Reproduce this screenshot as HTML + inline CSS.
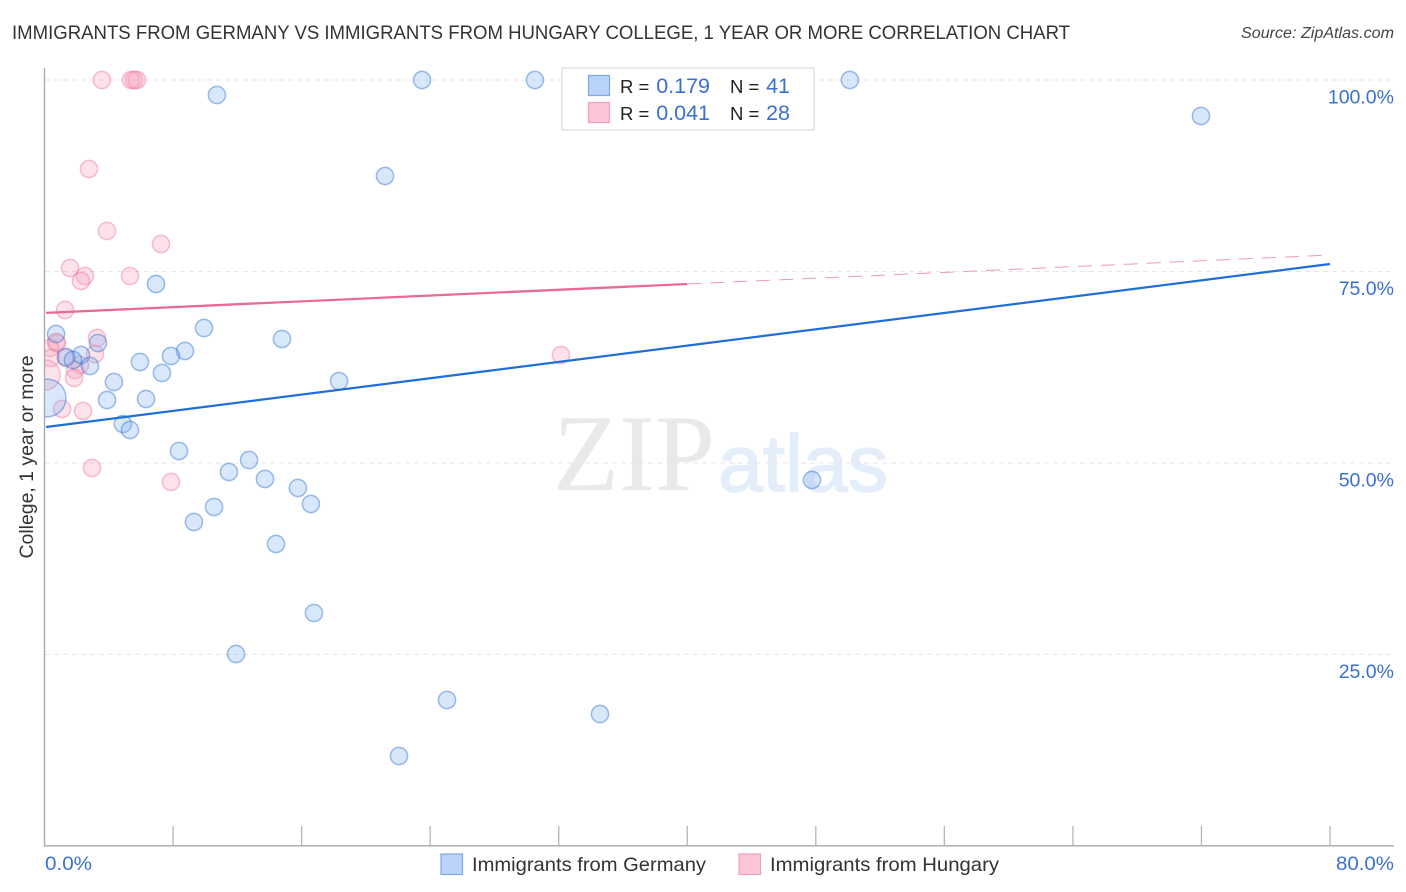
<!DOCTYPE html>
<html lang="en">
<head>
<meta charset="utf-8">
<title>Immigrants from Germany vs Immigrants from Hungary College Correlation Chart</title>
<style>
html,body{margin:0;padding:0;background:#fff;width:1406px;height:892px;overflow:hidden}
svg{display:block;font-family:"Liberation Sans",sans-serif}
</style>
</head>
<body>
<svg id="chart" width="1406" height="892" viewBox="0 0 1406 892" xmlns="http://www.w3.org/2000/svg">
  <defs><clipPath id="plot-clip"><rect x="45" y="60" width="1349" height="786"/></clipPath></defs>
  <text x="12" y="39" font-size="19.5" fill="#333" textLength="1058" lengthAdjust="spacingAndGlyphs">IMMIGRANTS FROM GERMANY VS IMMIGRANTS FROM HUNGARY COLLEGE, 1 YEAR OR MORE CORRELATION CHART</text>
  <text x="1394" y="38" font-size="15.5" font-style="italic" fill="#444" text-anchor="end" textLength="153" lengthAdjust="spacingAndGlyphs">Source: ZipAtlas.com</text>

  <g>
    <text x="553" y="490" font-family="'Liberation Serif',serif" font-size="109" fill="#e9e9e9" textLength="162" lengthAdjust="spacingAndGlyphs">ZIP</text>
    <text x="718" y="491" font-size="80" fill="#e4edfa" stroke="#e4edfa" stroke-width="1.5" textLength="170" lengthAdjust="spacingAndGlyphs">atlas</text>
  </g>

  <g id="grid"></g>
  <g id="axes"></g>
  <g id="y-labels"></g>
  <g id="x-labels"></g>
  <text transform="translate(33,457) rotate(-90)" font-size="19.5" fill="#333" text-anchor="middle" textLength="203" lengthAdjust="spacingAndGlyphs">College, 1 year or more</text>

  <g id="points" clip-path="url(#plot-clip)"></g>
  <g id="trends"></g>

  <g>
    <rect x="562" y="68" width="252" height="62" fill="#fff" stroke="#dcdcdc" stroke-width="1.2"/>
    <rect x="588.5" y="75.5" width="21" height="20" fill="#b9d4f8" stroke="#7fa9e2" stroke-width="1.2"/>
    <rect x="588.5" y="102.5" width="21" height="20" fill="#fcc6d6" stroke="#f0a0ba" stroke-width="1.2"/>
    <text x="620" y="93" font-size="18.5" fill="#222">R =</text>
    <text x="710" y="93" font-size="21.5" fill="#3a70d2" text-anchor="end">0.179</text>
    <text x="730" y="93" font-size="18.5" fill="#222">N =</text>
    <text x="790" y="93" font-size="21.5" fill="#3a70d2" text-anchor="end">41</text>
    <text x="620" y="120" font-size="18.5" fill="#222">R =</text>
    <text x="710" y="120" font-size="21.5" fill="#3a70d2" text-anchor="end">0.041</text>
    <text x="730" y="120" font-size="18.5" fill="#222">N =</text>
    <text x="790" y="120" font-size="21.5" fill="#3a70d2" text-anchor="end">28</text>
  </g>

  <g>
    <rect x="441" y="854" width="21.5" height="20.5" fill="#b9d4f8" stroke="#7fa9e2" stroke-width="1.2"/>
    <text x="472" y="871" font-size="19.5" fill="#333" textLength="234" lengthAdjust="spacingAndGlyphs">Immigrants from Germany</text>
    <rect x="739" y="854" width="21.5" height="20.5" fill="#fcc6d6" stroke="#f0a0ba" stroke-width="1.2"/>
    <text x="770" y="871" font-size="19.5" fill="#333" textLength="229" lengthAdjust="spacingAndGlyphs">Immigrants from Hungary</text>
  </g>
</svg>
<script>
const yTicks = [100, 75, 50, 25];
const yTickLabels = ["100.0%", "75.0%", "50.0%", "25.0%"];
const xTicks = [8, 16, 24, 32, 40, 48, 56, 64, 72, 80];
const xEndLabels = ["0.0%", "80.0%"];

const germanyX = [10.73, 23.49, 30.52, 50.12, 71.97, 21.19, 6.94, 9.93, 0.72, 14.78, 3.33, 8.74, 2.27, 7.87, 1.34, 1.77, 5.94, 2.83, 7.31, 18.33, 4.32, 3.89, 6.32, 4.88, 5.32, 8.37, 12.73, 11.48, 13.72, 47.76, 15.77, 16.58, 10.55, 9.30, 14.41, 16.77, 11.92, 25.05, 34.57, 22.06, 0.16];
const germanyY = [98.04, 100, 100, 100, 95.30, 87.47, 73.37, 67.62, 66.84, 66.19, 65.67, 64.62, 64.10, 63.97, 63.84, 63.45, 63.19, 62.66, 61.75, 60.70, 60.57, 58.22, 58.36, 55.09, 54.31, 51.57, 50.39, 48.83, 47.91, 47.78, 46.74, 44.65, 44.26, 42.30, 39.43, 30.42, 25.07, 19.06, 17.23, 11.75, 58.49];
const germanyWeight = [1, 1, 1, 1, 1, 1, 1, 1, 1, 1, 1, 1, 1, 1, 1, 1, 1, 1, 1, 1, 1, 1, 1, 1, 1, 1, 1, 1, 1, 1, 1, 1, 1, 1, 1, 1, 1, 1, 1, 1, 4.8];

const hungaryX = [3.58, 5.38, 5.76, 5.57, 2.77, 3.89, 7.25, 1.59, 2.52, 5.32, 2.27, 1.28, 3.27, 3.14, 0.72, 0.78, 0.34, 0.40, 1.34, 2.21, 1.90, 1.84, 32.14, 1.09, 2.40, 2.96, 7.87, 0.03];
const hungaryY = [100, 100, 100, 100, 88.38, 80.29, 78.59, 75.46, 74.41, 74.41, 73.76, 69.97, 66.32, 64.23, 65.80, 65.67, 65.01, 63.71, 63.71, 62.79, 62.14, 61.10, 64.10, 57.05, 56.79, 49.35, 47.52, 61.49];
const hungaryWeight = [1, 1, 1, 1, 1, 1, 1, 1, 1, 1, 1, 1, 1, 1, 1, 1, 1, 1, 1, 1, 1, 1, 1, 1, 1, 1, 1, 3.1];

const germanyTrendX = [0.1, 80];
const germanyTrendY = [54.7, 75.98];
const hungaryTrendX = [0.1, 40];
const hungaryTrendY = [69.6, 73.37];
const hungaryDashX = [40, 80];
const hungaryDashY = [73.37, 77.15];

const NS = "http://www.w3.org/2000/svg";
function xScale(v) { return 44.5 + v * (1330 - 44.5) / 80; }
function yScale(v) { return 846 - v * (846 - 80) / 100; }
function rScale(w) { return 8.6 * Math.sqrt(w); }
function make(tag, attrs, parent, text) {
  const el = document.createElementNS(NS, tag);
  for (const k in attrs) el.setAttribute(k, attrs[k]);
  if (text !== undefined) el.textContent = text;
  parent.appendChild(el);
  return el;
}

const grid = document.getElementById("grid");
const axes = document.getElementById("axes");
const yLabels = document.getElementById("y-labels");
const xLabels = document.getElementById("x-labels");
const points = document.getElementById("points");
const trends = document.getElementById("trends");

yTicks.forEach(function (t, i) {
  const line = make("line", { x1: 45, x2: 1394, y1: yScale(t), y2: yScale(t), stroke: "#e6e6e6", "stroke-width": 1, "stroke-dasharray": "5 4" }, grid);
  
  
  const label = make("text", { x: 1394, y: yScale(t) + 23.5, "font-size": 19.5, fill: "#3a70d2", "text-anchor": "end" }, yLabels, yTickLabels[i]);
  
  
});

const yAxis = make("line", { x1: 44.5, x2: 44.5, y1: 68, y2: 846.5, stroke: "#aaaaaa", "stroke-width": 1.4 }, axes);


const xAxis = make("line", { x1: 44, x2: 1394, y1: 845.8, y2: 845.8, stroke: "#aaaaaa", "stroke-width": 1.4 }, axes);



xTicks.forEach(function (t) {
  const tick = make("line", { x1: xScale(t), x2: xScale(t), y1: 826, y2: 846, stroke: "#b5b5b5", "stroke-width": 1.3 }, axes);
  
  
});

const xStart = make("text", { x: 45, y: 870, "font-size": 19.5, fill: "#3a70d2", textLength: 47, lengthAdjust: "spacingAndGlyphs" }, xLabels, xEndLabels[0]);


const xEnd = make("text", { x: 1394, y: 870, "font-size": 19.5, fill: "#3a70d2", "text-anchor": "end", textLength: 58, lengthAdjust: "spacingAndGlyphs" }, xLabels, xEndLabels[1]);



hungaryX.forEach(function (v, i) {
  const c = make("circle", { cx: xScale(v), cy: yScale(hungaryY[i]), r: rScale(hungaryWeight[i]), fill: "rgba(248,160,188,0.3)", stroke: "rgba(236,110,150,0.42)", "stroke-width": 1.5 }, points);
  
  
});
germanyX.forEach(function (v, i) {
  const c = make("circle", { cx: xScale(v), cy: yScale(germanyY[i]), r: rScale(germanyWeight[i]), fill: "rgba(130,175,240,0.3)", stroke: "rgba(45,110,210,0.45)", "stroke-width": 1.5 }, points);
  
  
});

const germanyLine = make("line", { x1: xScale(germanyTrendX[0]), y1: yScale(germanyTrendY[0]), x2: xScale(germanyTrendX[1]), y2: yScale(germanyTrendY[1]), stroke: "#1f6fd8", "stroke-width": 2.3 }, trends);


const hungaryLine = make("line", { x1: xScale(hungaryTrendX[0]), y1: yScale(hungaryTrendY[0]), x2: xScale(hungaryTrendX[1]), y2: yScale(hungaryTrendY[1]), stroke: "#e96a98", "stroke-width": 2.3 }, trends);


const hungaryDash = make("line", { x1: xScale(hungaryDashX[0]), y1: yScale(hungaryDashY[0]), x2: xScale(hungaryDashX[1]), y2: yScale(hungaryDashY[1]), stroke: "#eb9ab6", "stroke-width": 1, "stroke-dasharray": "14 9" }, trends);


</script>
</body>
</html>
